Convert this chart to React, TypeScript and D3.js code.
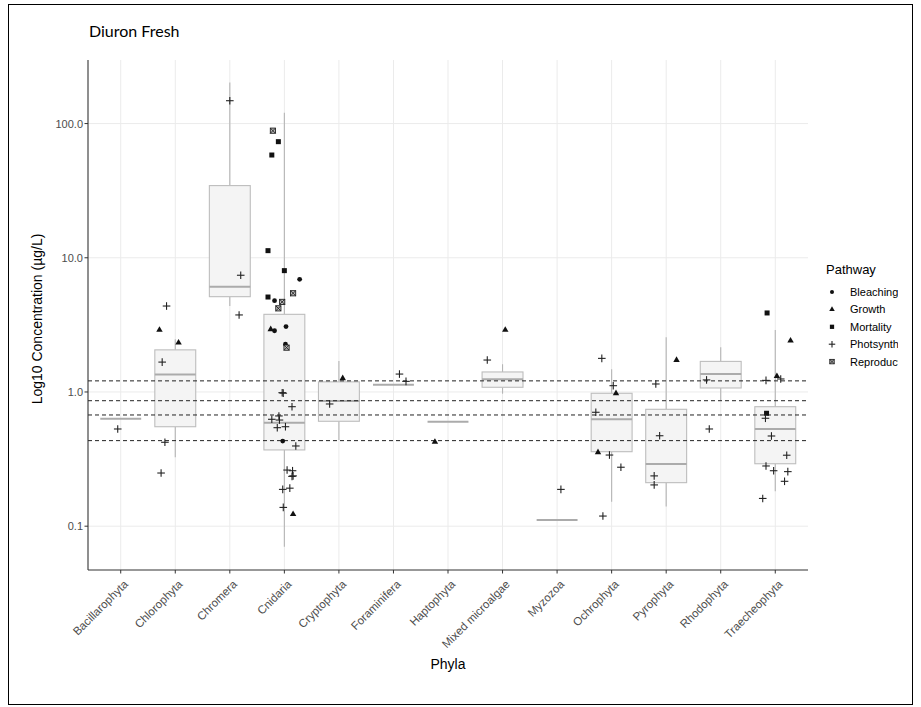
import React from "react";
import * as d3 from "d3";

const title = "Diuron Fresh";
const phyla = [
  "Bacillarophyta", "Chlorophyta", "Chromera", "Cnidaria", "Cryptophyta", "Foraminifera",
  "Haptophyta", "Mixed microalgae", "Myzozoa", "Ochrophyta", "Pyrophyta", "Rhodophyta", "Traecheophyta",
];
const whiskerLow = [0.632, 0.326, 4.37, 0.0704, 0.439, 1.13, 0.601, 0.971, 0.111, 0.152, 0.14, 0.872, 0.182];
const q1 = [0.632, 0.551, 5.13, 0.37, 0.605, 1.13, 0.601, 1.084, 0.111, 0.359, 0.211, 1.071, 0.292];
const median = [0.632, 1.35, 6.09, 0.59, 0.857, 1.13, 0.601, 1.243, 0.111, 0.626, 0.291, 1.36, 0.53];
const q3 = [0.632, 2.06, 34.5, 3.79, 1.19, 1.13, 0.601, 1.41, 0.111, 0.978, 0.743, 1.69, 0.777];
const whiskerHigh = [0.632, 2.47, 202, 120.5, 1.7, 1.13, 0.601, 1.61, 0.111, 1.476, 2.56, 2.15, 2.9];
const thresholds = [1.21, 0.861, 0.674, 0.434];
const yTicks = [0.1, 1, 10, 100];
const pathways = ["Bleaching", "Growth", "Mortality", "Photsynthesis", "Reproduction"];

// [phylum, pathway, value (µg/L), horizontal jitter (category units)]
const points: [string, string, number, number][] = [
  ["Bacillarophyta", "Photsynthesis", 0.53, -0.055],
  ["Chlorophyta", "Photsynthesis", 4.37, -0.16],
  ["Chlorophyta", "Growth", 2.9, -0.29],
  ["Chlorophyta", "Growth", 2.33, 0.06],
  ["Chlorophyta", "Photsynthesis", 1.67, -0.24],
  ["Chlorophyta", "Photsynthesis", 0.422, -0.19],
  ["Chlorophyta", "Photsynthesis", 0.249, -0.26],
  ["Chromera", "Photsynthesis", 148, 0.0],
  ["Chromera", "Photsynthesis", 7.41, 0.2],
  ["Chromera", "Photsynthesis", 3.75, 0.17],
  ["Cnidaria", "Reproduction", 88.5, -0.21],
  ["Cnidaria", "Mortality", 73.3, -0.11],
  ["Cnidaria", "Mortality", 58.3, -0.23],
  ["Cnidaria", "Mortality", 11.3, -0.3],
  ["Cnidaria", "Mortality", 8.02, 0.0],
  ["Cnidaria", "Bleaching", 6.91, 0.28],
  ["Cnidaria", "Reproduction", 5.44, 0.16],
  ["Cnidaria", "Mortality", 5.1, -0.3],
  ["Cnidaria", "Bleaching", 4.79, -0.18],
  ["Cnidaria", "Reproduction", 4.69, -0.04],
  ["Cnidaria", "Reproduction", 4.2, -0.11],
  ["Cnidaria", "Growth", 2.93, -0.25],
  ["Cnidaria", "Bleaching", 2.86, -0.18],
  ["Cnidaria", "Bleaching", 3.07, 0.03],
  ["Cnidaria", "Bleaching", 2.27, 0.02],
  ["Cnidaria", "Reproduction", 2.14, 0.04],
  ["Cnidaria", "Photsynthesis", 0.988, -0.04],
  ["Cnidaria", "Photsynthesis", 0.98, -0.02],
  ["Cnidaria", "Photsynthesis", 0.777, 0.14],
  ["Cnidaria", "Photsynthesis", 0.663, -0.1],
  ["Cnidaria", "Photsynthesis", 0.626, -0.23],
  ["Cnidaria", "Photsynthesis", 0.618, -0.09],
  ["Cnidaria", "Photsynthesis", 0.542, -0.13],
  ["Cnidaria", "Photsynthesis", 0.551, 0.02],
  ["Cnidaria", "Bleaching", 0.431, -0.03],
  ["Cnidaria", "Photsynthesis", 0.396, 0.21],
  ["Cnidaria", "Photsynthesis", 0.262, 0.05],
  ["Cnidaria", "Photsynthesis", 0.259, 0.15],
  ["Cnidaria", "Photsynthesis", 0.237, 0.16],
  ["Cnidaria", "Photsynthesis", 0.235, 0.14],
  ["Cnidaria", "Photsynthesis", 0.188, -0.03],
  ["Cnidaria", "Photsynthesis", 0.192, 0.1],
  ["Cnidaria", "Photsynthesis", 0.138, -0.02],
  ["Cnidaria", "Growth", 0.123, 0.16],
  ["Cryptophyta", "Growth", 1.265, 0.07],
  ["Cryptophyta", "Photsynthesis", 0.814, -0.17],
  ["Foraminifera", "Photsynthesis", 1.36, 0.11],
  ["Foraminifera", "Photsynthesis", 1.2, 0.23],
  ["Haptophyta", "Growth", 0.424, -0.24],
  ["Mixed microalgae", "Photsynthesis", 1.73, -0.28],
  ["Mixed microalgae", "Growth", 2.9, 0.05],
  ["Myzozoa", "Photsynthesis", 0.188, 0.07],
  ["Ochrophyta", "Photsynthesis", 1.78, -0.18],
  ["Ochrophyta", "Photsynthesis", 1.114, 0.03],
  ["Ochrophyta", "Growth", 0.978, 0.08],
  ["Ochrophyta", "Photsynthesis", 0.706, -0.29],
  ["Ochrophyta", "Growth", 0.355, -0.25],
  ["Ochrophyta", "Photsynthesis", 0.339, -0.04],
  ["Ochrophyta", "Photsynthesis", 0.275, 0.17],
  ["Ochrophyta", "Photsynthesis", 0.119, -0.16],
  ["Pyrophyta", "Growth", 1.73, 0.19],
  ["Pyrophyta", "Photsynthesis", 1.147, -0.19],
  ["Pyrophyta", "Photsynthesis", 0.472, -0.12],
  ["Pyrophyta", "Photsynthesis", 0.237, -0.22],
  ["Pyrophyta", "Photsynthesis", 0.203, -0.22],
  ["Rhodophyta", "Photsynthesis", 1.23, -0.26],
  ["Rhodophyta", "Photsynthesis", 0.53, -0.21],
  ["Traecheophyta", "Mortality", 3.88, -0.15],
  ["Traecheophyta", "Growth", 2.41, 0.28],
  ["Traecheophyta", "Photsynthesis", 1.22, -0.17],
  ["Traecheophyta", "Growth", 1.31, 0.03],
  ["Traecheophyta", "Photsynthesis", 1.25, 0.1],
  ["Traecheophyta", "Mortality", 0.694, -0.16],
  ["Traecheophyta", "Photsynthesis", 0.637, -0.18],
  ["Traecheophyta", "Photsynthesis", 0.47, -0.07],
  ["Traecheophyta", "Photsynthesis", 0.338, 0.21],
  ["Traecheophyta", "Photsynthesis", 0.281, -0.17],
  ["Traecheophyta", "Photsynthesis", 0.259, -0.03],
  ["Traecheophyta", "Photsynthesis", 0.255, 0.23],
  ["Traecheophyta", "Photsynthesis", 0.216, 0.17],
  ["Traecheophyta", "Photsynthesis", 0.161, -0.23],
];

const W = 921;
const H = 707;
const left = 88, right = 808, top = 60, bottom = 570;
const FONT = "'Liberation Sans', Arial, sans-serif";

function Marker({ kind, x, y, s = 1 }: { kind: string; x: number; y: number; s?: number }) {
  const c = "#111";
  if (kind === "Bleaching") return <circle cx={x} cy={y} r={2.4 * s} fill={c} />;
  if (kind === "Growth") {
    const p = d3.symbol(d3.symbolTriangle, 18 * s * s)();
    return <path d={p || ""} transform={`translate(${x},${y})`} fill={c} />;
  }
  if (kind === "Mortality") {
    const h = 2.5 * s;
    return <rect x={x - h} y={y - h} width={2 * h} height={2 * h} fill={c} />;
  }
  if (kind === "Photsynthesis") {
    const h = 3.8 * s;
    return (
      <g stroke="#222" strokeWidth={1.1}>
        <line x1={x - h} x2={x + h} y1={y} y2={y} />
        <line x1={x} x2={x} y1={y - h} y2={y + h} />
      </g>
    );
  }
  const h = 2.6 * s;
  return (
    <g stroke="#222" strokeWidth={0.9} fill="#bbb">
      <rect x={x - h} y={y - h} width={2 * h} height={2 * h} />
      <line x1={x - h} x2={x + h} y1={y - h} y2={y + h} />
      <line x1={x - h} x2={x + h} y1={y + h} y2={y - h} />
    </g>
  );
}

export default function App() {
  const x = d3.scalePoint<string>().domain(phyla).range([left, right]).padding(0.6);
  const step = x.step();
  const y = d3.scaleLog().domain([0.04716, 297.6]).range([bottom, top]);
  const bw = step * 0.75;
  const fmt = d3.format(".1f");

  return (
    <svg width={W} height={H} style={{ position: "absolute", left: 0, top: 0, background: "#fff" }}>
      <defs>
        <clipPath id="legclip">
          <rect x={800} y={250} width={98} height={140} />
        </clipPath>
      </defs>
      <rect x={8.5} y={4.5} width={904} height={700} fill="#fff" stroke="#000" strokeWidth={1} />
      <text x={89} y={37} fontFamily="Lato, 'Open Sans', sans-serif" fontSize={16} fill="#000">
        {title}
      </text>

      {/* grid */}
      {yTicks.map((t) => (
        <line key={"gy" + t} x1={left} x2={right} y1={y(t)} y2={y(t)} stroke="#ebebeb" strokeWidth={1} />
      ))}
      {phyla.map((p) => (
        <line key={"gx" + p} x1={x(p)} x2={x(p)} y1={top} y2={bottom} stroke="#ebebeb" strokeWidth={1} />
      ))}

      {/* boxplots */}
      {phyla.map((p, i) => {
        const cx = x(p)!;
        return (
          <g key={"b" + p}>
            <line x1={cx} x2={cx} y1={y(whiskerHigh[i])} y2={y(q3[i])} stroke="#b5b5b5" strokeWidth={1.1} />
            <line x1={cx} x2={cx} y1={y(q1[i])} y2={y(whiskerLow[i])} stroke="#b5b5b5" strokeWidth={1.1} />
            <rect
              x={cx - bw / 2}
              y={y(q3[i])}
              width={bw}
              height={y(q1[i]) - y(q3[i])}
              fill="#f4f4f4"
              stroke="#bdbdbd"
              strokeWidth={1.1}
            />
            <line x1={cx - bw / 2} x2={cx + bw / 2} y1={y(median[i])} y2={y(median[i])} stroke="#ababab" strokeWidth={2} />
          </g>
        );
      })}

      {/* thresholds */}
      {thresholds.map((t) => (
        <line key={"th" + t} x1={left} x2={right} y1={y(t)} y2={y(t)} stroke="#222" strokeWidth={1} strokeDasharray="4,3" />
      ))}

      {/* points */}
      {points.map(([p, pw, v, j], k) => (
        <Marker key={"p" + k} kind={pw} x={x(p)! + j * step} y={y(v)} />
      ))}

      {/* axes */}
      <line x1={left} x2={left} y1={top} y2={bottom} stroke="#333" strokeWidth={1.1} />
      <line x1={left} x2={right} y1={bottom} y2={bottom} stroke="#333" strokeWidth={1.1} />
      {yTicks.map((t) => (
        <g key={"yt" + t}>
          <line x1={left - 3.5} x2={left} y1={y(t)} y2={y(t)} stroke="#333" />
          <text x={left - 5} y={y(t) + 4} textAnchor="end" fontFamily={FONT} fontSize={11} fill="#4d4d4d">
            {fmt(t)}
          </text>
        </g>
      ))}
      {phyla.map((p) => (
        <g key={"xt" + p}>
          <line x1={x(p)} x2={x(p)} y1={bottom} y2={bottom + 3.5} stroke="#333" />
          <text
            transform={`translate(${x(p)! + 8},${bottom + 15}) rotate(-45)`}
            textAnchor="end"
            fontFamily={FONT}
            fontSize={11.5}
            fill="#4d4d4d"
          >
            {p}
          </text>
        </g>
      ))}
      <text x={(left + right) / 2} y={669} textAnchor="middle" fontFamily={FONT} fontSize={14} fill="#000">
        Phyla
      </text>
      <text
        transform={`translate(42,319) rotate(-90)`}
        textAnchor="middle"
        fontFamily={FONT}
        fontSize={14}
        fill="#000"
      >
        Log10 Concentration (µg/L)
      </text>

      {/* legend */}
      <text x={826} y={274} fontFamily={FONT} fontSize={13} fill="#000">
        Pathway
      </text>
      {pathways.map((pw, i) => {
        const ly = 292 + i * 17.4;
        return (
          <g key={"lg" + pw}>
            <Marker kind={pw} x={832} y={ly} s={0.85} />
            <text x={850} y={ly + 4} fontFamily={FONT} fontSize={11} fill="#000" clipPath="url(#legclip)">
              {pw}
            </text>
          </g>
        );
      })}
    </svg>
  );
}
